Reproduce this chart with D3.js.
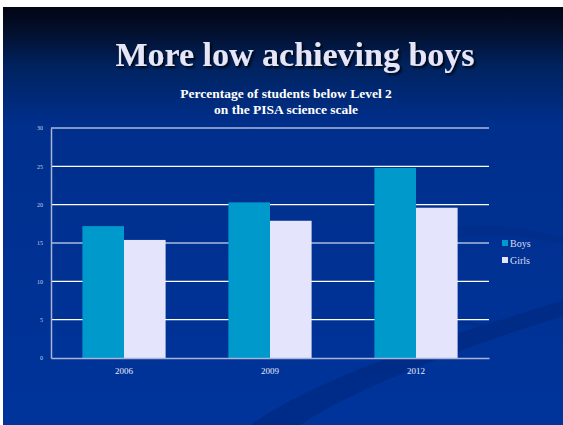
<!DOCTYPE html>
<html>
<head>
<meta charset="utf-8">
<script src="https://cdn.jsdelivr.net/npm/d3@7"></script>
<style>
  body { margin: 0; background: #ffffff; }
  svg { display: block; }
</style>
</head>
<body>
<div id="chart"></div>
<script>
// data
var years = ["2006", "2009", "2012"];
var seriesNames = ["Boys", "Girls"];
var boys = [17.2, 20.3, 24.8];
var girls = [15.4, 17.9, 19.6];
var yTicks = [0, 5, 10, 15, 20, 25, 30];

var svgWidth = 563;
var svgHeight = 425;

var margin = { top: 128, right: 74, bottom: 67, left: 51 };
var width = svgWidth - margin.left - margin.right;
var height = svgHeight - margin.top - margin.bottom;

var svg = d3.select("#chart")
  .append("svg")
  .attr("width", svgWidth)
  .attr("height", svgHeight);

var defs = svg.append("defs");
var grad = defs.append("linearGradient")
  .attr("id", "bg")
  .attr("x1", 0).attr("y1", 0).attr("x2", 0).attr("y2", 1);
grad.append("stop").attr("offset", "0%").attr("stop-color", "#020514");
grad.append("stop").attr("offset", "6%").attr("stop-color", "#03102e");
grad.append("stop").attr("offset", "14%").attr("stop-color", "#00225e");
grad.append("stop").attr("offset", "28%").attr("stop-color", "#002f8c");
grad.append("stop").attr("offset", "100%").attr("stop-color", "#00349b");

var shadow = defs.append("filter").attr("id", "shadow")
  .attr("x", "-5%").attr("y", "-20%").attr("width", "110%").attr("height", "150%");
shadow.append("feDropShadow")
  .attr("dx", 2).attr("dy", 2).attr("stdDeviation", 1)
  .attr("flood-color", "#000000").attr("flood-opacity", 0.8);

// slide background
svg.append("rect")
  .attr("x", 3).attr("y", 7)
  .attr("width", svgWidth - 3).attr("height", svgHeight - 7)
  .attr("fill", "url(#bg)");

// faint swoosh in the lower right
svg.append("path")
  .attr("d", "M250,425 C330,370 470,330 563,300 L563,316 C470,345 360,385 300,425 Z")
  .attr("fill", "#002b85").attr("opacity", 0.8);
svg.append("path")
  .attr("d", "M380,250 C430,215 530,225 563,238 L563,244 C520,232 440,228 400,262 C370,290 430,320 520,330 C450,330 360,300 380,250 Z")
  .attr("fill", "#002d88").attr("opacity", 0.7);

// titles
svg.append("text")
  .attr("x", 295)
  .attr("y", 66)
  .attr("text-anchor", "middle")
  .attr("filter", "url(#shadow)")
  .style("font-family", "'Liberation Serif', serif")
  .style("font-weight", "bold")
  .style("font-size", "34px")
  .style("fill", "#e6e6f8")
  .text("More low achieving boys");

svg.append("text")
  .attr("x", 286)
  .attr("y", 98)
  .attr("text-anchor", "middle")
  .style("font-family", "'Liberation Serif', serif")
  .style("font-weight", "bold")
  .style("font-size", "13.5px")
  .style("fill", "#ffffff")
  .text("Percentage of students below Level 2");

svg.append("text")
  .attr("x", 286)
  .attr("y", 114)
  .attr("text-anchor", "middle")
  .style("font-family", "'Liberation Serif', serif")
  .style("font-weight", "bold")
  .style("font-size", "13.5px")
  .style("fill", "#ffffff")
  .text("on the PISA science scale");

var chartGroup = svg.append("g")
  .attr("transform", `translate(${margin.left}, ${margin.top})`);

// scales
var x0 = d3.scaleBand()
  .domain(years)
  .range([0, width])
  .paddingInner(0.43)
  .paddingOuter(0.215);

var x1 = d3.scaleBand()
  .domain(seriesNames)
  .range([0, x0.bandwidth()]);

var yScale = d3.scaleLinear()
  .domain([0, 30])
  .range([height, 0]);

var color = d3.scaleOrdinal()
  .domain(seriesNames)
  .range(["#0099cc", "#e4e4fc"]);

// gridlines
chartGroup.selectAll(".grid")
  .data(yTicks.filter(d => d > 0))
  .enter()
  .append("line")
  .attr("x1", 0)
  .attr("x2", width)
  .attr("y1", d => yScale(d))
  .attr("y2", d => yScale(d))
  .attr("stroke", "#ffffff")
  .attr("stroke-width", 1.2);

// bars
var rows = years.map((yr, i) => ({ year: yr, values: [
  { name: "Boys", value: boys[i] },
  { name: "Girls", value: girls[i] }
] }));

var groups = chartGroup.selectAll(".year")
  .data(rows)
  .enter()
  .append("g")
  .attr("transform", d => `translate(${x0(d.year)}, 0)`);

groups.selectAll("rect")
  .data(d => d.values)
  .enter()
  .append("rect")
  .attr("x", d => x1(d.name))
  .attr("y", d => yScale(d.value))
  .attr("width", x1.bandwidth())
  .attr("height", d => height - yScale(d.value))
  .attr("fill", d => color(d.name));

// axes
var leftAxis = d3.axisLeft(yScale).tickValues(yTicks).tickSize(0).tickPadding(8);
var bottomAxis = d3.axisBottom(x0).tickSize(0).tickPadding(10);

var yAxisG = chartGroup.append("g").call(leftAxis);
yAxisG.select(".domain").attr("stroke", "#a9b3d8").attr("stroke-width", 1.5);
yAxisG.selectAll("text")
  .style("font-family", "'Liberation Serif', serif")
  .style("font-size", "6px")
  .style("fill", "#c8cfe8");

var xAxisG = chartGroup.append("g")
  .attr("transform", `translate(0, ${height})`)
  .call(bottomAxis);
xAxisG.select(".domain").attr("stroke", "#a9b3d8").attr("stroke-width", 1.5);
xAxisG.selectAll("text")
  .style("font-family", "'Liberation Serif', serif")
  .style("font-size", "9px")
  .style("fill", "#e8ecf8");

// legend
var legend = svg.selectAll(".legend")
  .data(seriesNames)
  .enter()
  .append("g")
  .attr("transform", (d, i) => `translate(502, ${240 + i * 17})`);

legend.append("rect")
  .attr("width", 6)
  .attr("height", 6)
  .attr("fill", d => color(d));

legend.append("text")
  .attr("x", 8)
  .attr("y", 6.5)
  .style("font-family", "'Liberation Serif', serif")
  .style("font-size", "10px")
  .style("fill", "#d8ddf0")
  .text(d => d);
</script>
</body>
</html>
